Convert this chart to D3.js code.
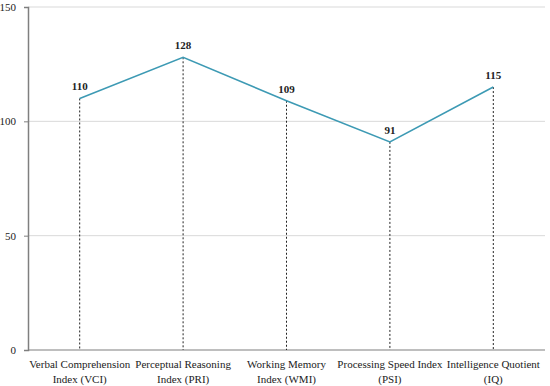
<!DOCTYPE html>
<html lang="en">
<head>
  <meta charset="UTF-8">
  <title>Index scores</title>
  <script src="https://cdnjs.cloudflare.com/ajax/libs/d3/7.8.5/d3.min.js"></script>
  <style>
    body { margin: 0; background: #fff; }
    text { font-family: "Liberation Serif", "DejaVu Serif", serif; fill: #222; }
  </style>
</head>
<body>
  <div id="chart"></div>
  <script>
var categories = [
  ["Verbal Comprehension", "Index (VCI)"],
  ["Perceptual Reasoning", "Index (PRI)"],
  ["Working Memory", "Index (WMI)"],
  ["Processing Speed Index", "(PSI)"],
  ["Intelligence Quotient", "(IQ)"]
];
var scores = [110, 128, 109, 91, 115];
var yTicks = [0, 50, 100, 150];

var svgWidth = 550;
var svgHeight = 386;
var margin = { top: 7, right: 5, bottom: 36, left: 28 };
var width = svgWidth - margin.left - margin.right;
var height = svgHeight - margin.top - margin.bottom;

var svg = d3.select("#chart")
  .append("svg")
  .attr("width", svgWidth)
  .attr("height", svgHeight);

var chartGroup = svg.append("g")
  .attr("transform", `translate(${margin.left}, ${margin.top})`);

var xScale = d3.scaleBand()
  .domain(d3.range(categories.length))
  .range([0, width]);

var yScale = d3.scaleLinear()
  .domain([0, 150])
  .range([height, 0]);

// gridlines
chartGroup.selectAll(".grid")
  .data(yTicks.filter(d => d > 0))
  .enter()
  .append("line")
  .attr("x1", 0)
  .attr("x2", width)
  .attr("y1", d => yScale(d))
  .attr("y2", d => yScale(d))
  .attr("stroke", "#d9d9d9")
  .attr("stroke-width", 1);

// y axis
var leftAxis = d3.axisLeft(yScale).tickValues(yTicks).tickSize(4).tickPadding(8);
var yAxis = chartGroup.append("g").call(leftAxis);
yAxis.select(".domain").attr("stroke", "#7f7f7f").attr("stroke-width", 1.5);
yAxis.selectAll(".tick line").attr("stroke", "#7f7f7f");
yAxis.selectAll(".tick text")
  .style("font-family", "'Liberation Serif', serif")
  .style("font-size", "11px")
  .attr("fill", "#333");

// x axis line
chartGroup.append("line")
  .attr("x1", 0)
  .attr("x2", width)
  .attr("y1", height)
  .attr("y2", height)
  .attr("stroke", "#7f7f7f")
  .attr("stroke-width", 1.2);

var cx = i => xScale(i) + xScale.bandwidth() / 2;

// drop lines
chartGroup.selectAll(".drop")
  .data(scores)
  .enter()
  .append("line")
  .attr("x1", (d, i) => cx(i))
  .attr("x2", (d, i) => cx(i))
  .attr("y1", d => yScale(d))
  .attr("y2", height)
  .attr("stroke", "#222")
  .attr("stroke-width", 1)
  .attr("stroke-dasharray", "2,2");

// line
var line = d3.line()
  .x((d, i) => cx(i))
  .y(d => yScale(d));

chartGroup.append("path")
  .datum(scores)
  .attr("d", line)
  .attr("fill", "none")
  .attr("stroke", "#3d9ab4")
  .attr("stroke-width", 1.6);

// value labels
chartGroup.selectAll(".val")
  .data(scores)
  .enter()
  .append("text")
  .attr("x", (d, i) => cx(i))
  .attr("y", d => yScale(d) - 8)
  .attr("text-anchor", "middle")
  .style("font-size", "11px")
  .style("font-weight", "bold")
  .text(d => d);

// category labels
var catGroup = chartGroup.selectAll(".cat")
  .data(categories)
  .enter()
  .append("text")
  .attr("text-anchor", "middle")
  .style("font-size", "11px")
  .attr("transform", (d, i) => `translate(${cx(i)}, ${height + 18})`);

catGroup.selectAll("tspan")
  .data(d => d)
  .enter()
  .append("tspan")
  .attr("x", 0)
  .attr("dy", (d, j) => j === 0 ? 0 : 15)
  .text(d => d);
  </script>
</body>
</html>
